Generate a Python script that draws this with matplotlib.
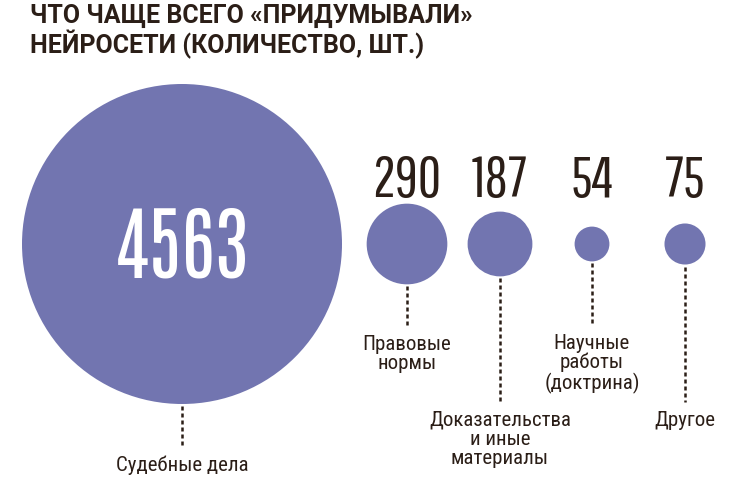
import numpy as np
import matplotlib
matplotlib.use("Agg")
import matplotlib.pyplot as plt
from matplotlib.patches import Circle


values = [4563, 290, 187, 54, 75]
value_labels = ["4563", "290", "187", "54", "75"]
categories = ["Судебные дела", "Правовые\nнормы", "Доказательства\nи иные\nматериалы",
              "Научные\nработы\n(доктрина)", "Другое"]
title = "ЧТО ЧАЩЕ ВСЕГО «ПРИДУМЫВАЛИ»\nНЕЙРОСЕТИ (КОЛИЧЕСТВО, ШТ.)"

# layout (pixels)
centers_x = [182, 407, 500, 592, 685]
center_y = 245
label_y = [456, 335, 411, 334, 411]
scale = 160 / np.sqrt(values[0])

circle_color = "#7275b0"
text_color = "#2b1e17"
cond = ["Roboto Condensed", "Fira Sans Condensed", "DejaVu Sans"]
big_digits = ["Antonio", "Bebas Neue", "DejaVu Sans"]
small_digits = ["Pathway Gothic One", "Antonio", "DejaVu Sans"]

fig = plt.figure(figsize=(7.53, 4.81), dpi=100)
ax = fig.add_axes([0, 0, 1, 1])
ax.set_xlim(0, 753)
ax.set_ylim(481, 0)
ax.set_aspect("equal")
ax.axis("off")

fig.text(30 / 753, 1 - 4 / 481, title, ha="left", va="top", fontsize=18,
         fontweight="bold", family=["Roboto", "Liberation Sans", "DejaVu Sans"],
         color=text_color, linespacing=1.05)

for i, v in enumerate(values):
    r = scale * np.sqrt(v)
    x = centers_x[i]
    ax.add_patch(Circle((x, center_y), r, color=circle_color, lw=0))
    # dotted leader
    ax.plot([x, x], [center_y + r + 2, label_y[i] - 8], color=text_color,
            lw=1.8, ls=(0, (1.6, 1.2)), solid_capstyle="butt")
    ax.text(x, label_y[i], categories[i], ha="center", va="top", fontsize=15,
            family=cond, color=text_color, linespacing=1.0)
    if i == 0:
        ax.text(x, 278, value_labels[i], ha="center", va="baseline",
                fontsize=58, family=big_digits, color="white")
    else:
        ax.text(x, 197, value_labels[i], ha="center", va="baseline",
                fontsize=41, family=small_digits, color=text_color)

fig.savefig("out.png", dpi=100)
